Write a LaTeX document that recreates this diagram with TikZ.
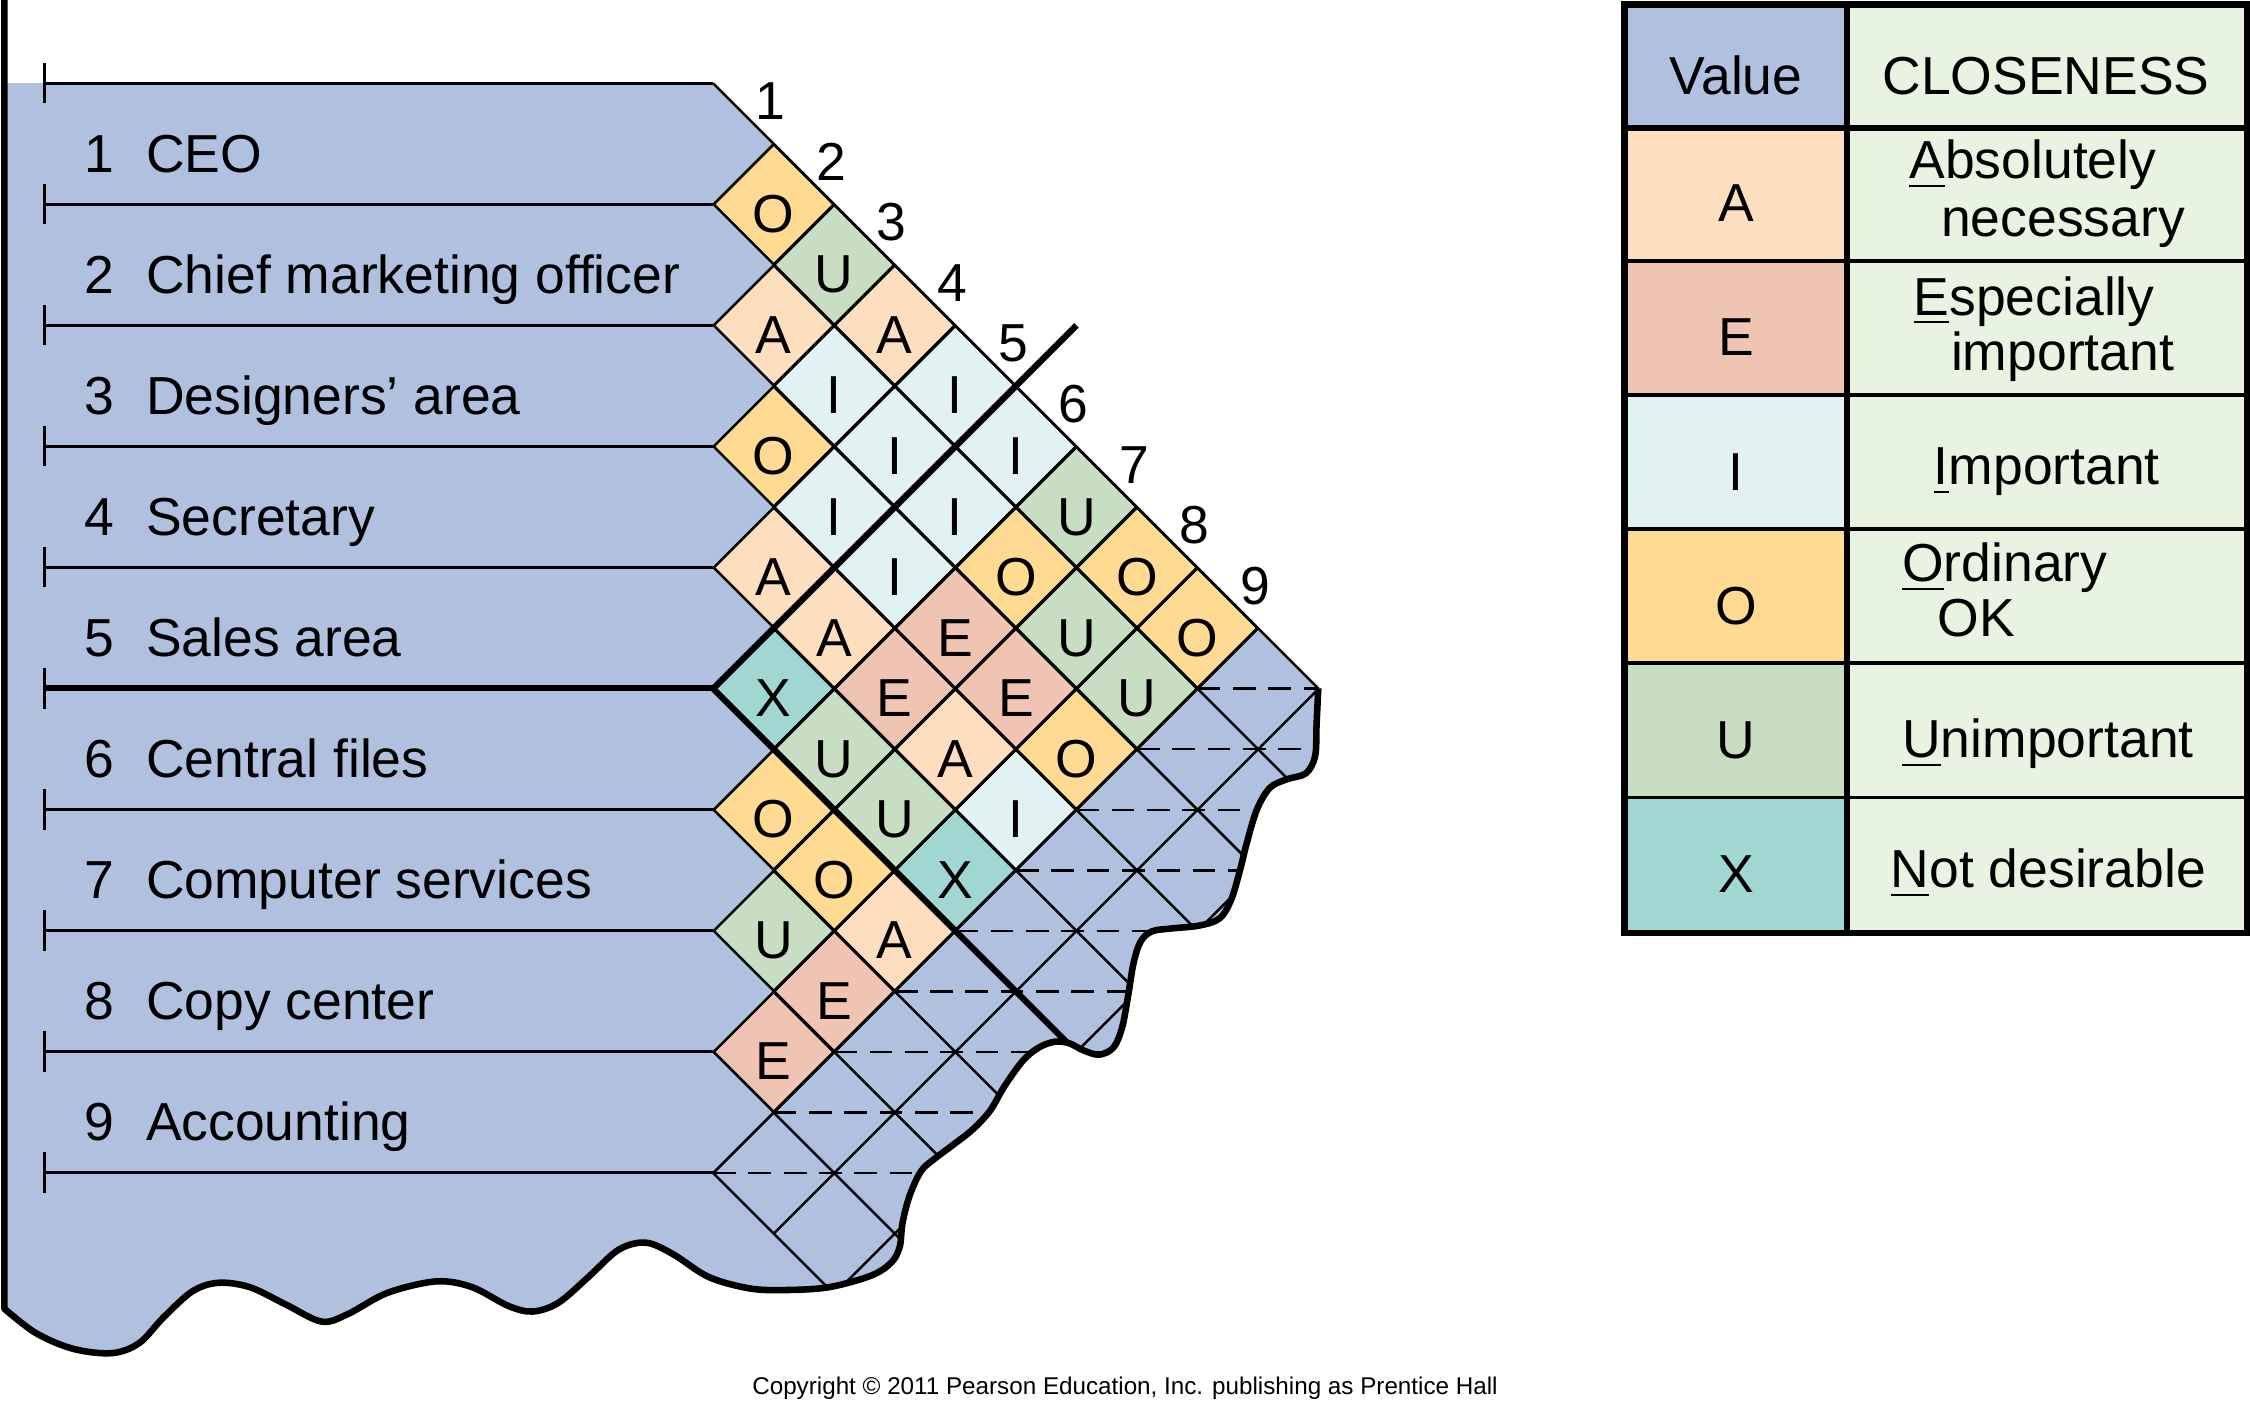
\documentclass[tikz,border=0pt]{standalone}
\usepackage{fontspec}
\setmainfont{Liberation Sans}
\usepackage{tikz}
\usetikzlibrary{shapes.geometric, arrows.meta}

\definecolor{paper}{RGB}{176,193,224}
\definecolor{acol}{RGB}{253,222,190}
\definecolor{ecol}{RGB}{240,196,179}
\definecolor{icol}{RGB}{226,241,242}
\definecolor{ocol}{RGB}{254,218,146}
\definecolor{ucol}{RGB}{200,222,194}
\definecolor{xcol}{RGB}{161,215,211}
\definecolor{keygreen}{RGB}{232,243,226}

% the torn right and bottom edge of the sheet
\newcommand{\tornedge}{-- plot[smooth, tension=0.55] coordinates {(918.7,479.7) (917.5,505) (916.5,527) (910,539) (897,543) (885,549) (876,564) (869,587) (864,607) (858,627) (850,640) (836,645) (817,647) (803,649) (795,656) (790,671) (786,695) (782,716) (776,730) (766,735) (755,732) (745,727) (735,726) (724,730) (713,739) (700,757) (690,774) (678,787) (664,798) (652,807) (642,816) (634,833) (629,852) (627,869) (621,880) (607,889) (578,897) (549,899) (523,898) (494,890) (469,874) (450,866) (431,871) (410,890) (389,908) (371,914) (354,910) (329,897) (304,893) (270,901) (242,916) (224,921) (199,909) (174,897) (152,894) (134,900) (114,918) (97,936) (78,943) (51,940) (25,929) (3,912)}}

\tikzset{
  cell/.style={diamond, draw, line width=0.5pt, minimum width=0.8434cm,
    minimum height=0.8434cm, inner sep=0pt, text height=0.39cm, text depth=0pt},
  rowline/.style={line width=0.65pt},
  gridline/.style={line width=0.5pt},
  heavy/.style={line width=1.25pt},
  torn/.style={line width=1.3pt, line join=round},
  rowlabel/.style={anchor=base west, inner sep=0pt},
  colnum/.style={inner sep=0pt},
  keycell/.style={draw, line width=0.7pt, inner sep=0pt, text height=0.39cm,
    text depth=0pt, anchor=north west},
  keyval/.style={keycell, minimum width=1.53cm, minimum height=0.935cm},
  keytext/.style={keycell, fill=keygreen, minimum width=2.79cm, minimum height=0.935cm},
  desc/.style={anchor=base west, inner sep=0pt}
}

\begin{document}
\begin{tikzpicture}[x=0.01cm, y=-0.01cm]
\fontsize{10.6}{12.7}\selectfont
\useasboundingbox (0,0) rectangle (1568,989.6);
        % Draw the sheet
        \fill[paper] (3,58) -- (497,58) -- (918.7,479.7) \tornedge -- cycle;
        % Draw the rows
        \draw[rowline, {Bar[width=8pt]}-] (30,58) -- (497,58);
        \draw[rowline, {Bar[width=8pt]}-] (30,142.34) -- (497,142.34);
        \draw[rowline, {Bar[width=8pt]}-] (30,226.68) -- (497,226.68);
        \draw[rowline, {Bar[width=8pt]}-] (30,311.02) -- (497,311.02);
        \draw[rowline, {Bar[width=8pt]}-] (30,395.36) -- (497,395.36);
        \draw[rowline, {Bar[width=8pt]}-] (30,479.7) -- (497,479.7);
        \draw[heavy] (30,479.7) -- (497,479.7);
        \draw[rowline, {Bar[width=8pt]}-] (30,564.04) -- (497,564.04);
        \draw[rowline, {Bar[width=8pt]}-] (30,648.38) -- (497,648.38);
        \draw[rowline, {Bar[width=8pt]}-] (30,732.72) -- (497,732.72);
        \draw[rowline, {Bar[width=8pt]}-] (30,817.06) -- (497,817.06);
        \node[rowlabel] (r1) at (58,120.17) {1\hspace{0.6em}CEO};
        \node[rowlabel] (r2) at (58,204.51) {2\hspace{0.6em}Chief marketing officer};
        \node[rowlabel] (r3) at (58,288.85) {3\hspace{0.6em}Designers’ area};
        \node[rowlabel] (r4) at (58,373.19) {4\hspace{0.6em}Secretary};
        \node[rowlabel] (r5) at (58,457.53) {5\hspace{0.6em}Sales area};
        \node[rowlabel] (r6) at (58,541.87) {6\hspace{0.6em}Central files};
        \node[rowlabel] (r7) at (58,626.21) {7\hspace{0.6em}Computer services};
        \node[rowlabel] (r8) at (58,710.55) {8\hspace{0.6em}Copy center};
        \node[rowlabel] (r9) at (58,794.89) {9\hspace{0.6em}Accounting};

        % Draw the closeness cells
        \begin{scope}[shift={(497,58)}, x=0.4217cm, y=-0.4217cm]
        \node[cell, fill=ocol] (c12) at (1,2)  {O};
        \node[cell, fill=ucol] (c13) at (2,3)  {U};
        \node[cell, fill=acol] (c14) at (3,4)  {A};
        \node[cell, fill=icol] (c15) at (4,5)  {I};
        \node[cell, fill=icol] (c16) at (5,6)  {I};
        \node[cell, fill=ucol] (c17) at (6,7)  {U};
        \node[cell, fill=ocol] (c18) at (7,8)  {O};
        \node[cell, fill=ocol] (c19) at (8,9)  {O};
        \node[cell, fill=acol] (c23) at (1,4)  {A};
        \node[cell, fill=icol] (c24) at (2,5)  {I};
        \node[cell, fill=icol] (c25) at (3,6)  {I};
        \node[cell, fill=icol] (c26) at (4,7)  {I};
        \node[cell, fill=ocol] (c27) at (5,8)  {O};
        \node[cell, fill=ucol] (c28) at (6,9)  {U};
        \node[cell, fill=ucol] (c29) at (7,10) {U};
        \node[cell, fill=ocol] (c34) at (1,6)  {O};
        \node[cell, fill=icol] (c35) at (2,7)  {I};
        \node[cell, fill=icol] (c36) at (3,8)  {I};
        \node[cell, fill=ecol] (c37) at (4,9)  {E};
        \node[cell, fill=ecol] (c38) at (5,10) {E};
        \node[cell, fill=ocol] (c39) at (6,11) {O};
        \node[cell, fill=acol] (c45) at (1,8)  {A};
        \node[cell, fill=acol] (c46) at (2,9)  {A};
        \node[cell, fill=ecol] (c47) at (3,10) {E};
        \node[cell, fill=acol] (c48) at (4,11) {A};
        \node[cell, fill=icol] (c49) at (5,12) {I};
        \node[cell, fill=xcol] (c56) at (1,10) {X};
        \node[cell, fill=ucol] (c57) at (2,11) {U};
        \node[cell, fill=ucol] (c58) at (3,12) {U};
        \node[cell, fill=xcol] (c59) at (4,13) {X};
        \node[cell, fill=ocol] (c67) at (1,12) {O};
        \node[cell, fill=ocol] (c68) at (2,13) {O};
        \node[cell, fill=acol] (c69) at (3,14) {A};
        \node[cell, fill=ucol] (c78) at (1,14) {U};
        \node[cell, fill=ecol] (c79) at (2,15) {E};
        \node[cell, fill=ecol] (c89) at (1,16) {E};
        \end{scope}

        % Draw the empty half of the grid
        \begin{scope}
        \clip (3,58) -- (497,58) -- (918.7,479.7) \tornedge -- cycle;
        \begin{scope}[shift={(497,58)}, x=0.4217cm, y=-0.4217cm]
        \draw[gridline] (0,18) -- (9,9) (8,10) -- (14,16) (7,11) -- (13,17)
            (6,12) -- (12,18) (5,13) -- (11,19) (3,15) -- (9,21)
            (2,16) -- (8,22) (1,17) -- (7,23) (0,18) -- (6,24);
        \draw[gridline] (1,19) -- (10,10) (2,20) -- (11,11) (3,21) -- (12,12)
            (4,22) -- (13,13) (5,23) -- (14,14);
        \draw[gridline, dash pattern=on 4.5pt off 2.5pt]
            (8,10) -- (20,10) (7,11) -- (20,11) (6,12) -- (20,12)
            (5,13) -- (20,13) (4,14) -- (20,14) (3,15) -- (20,15)
            (2,16) -- (20,16) (1,17) -- (20,17) (0,18) -- (20,18);
        \draw[heavy] (0,10) -- (12,22);
        \end{scope}
        \end{scope}

        \begin{scope}[shift={(497,58)}, x=0.4217cm, y=-0.4217cm]
        \draw[gridline] (0,0) -- (10,10);
        \draw[heavy] (0,10) -- (6,4);
        % Number the columns
        \node[colnum] (n1) at (0.95,0.3) {1};
        \node[colnum] (n2) at (1.95,1.3) {2};
        \node[colnum] (n3) at (2.95,2.3) {3};
        \node[colnum] (n4) at (3.95,3.3) {4};
        \node[colnum] (n5) at (4.95,4.3) {5};
        \node[colnum] (n6) at (5.95,5.3) {6};
        \node[colnum] (n7) at (6.95,6.3) {7};
        \node[colnum] (n8) at (7.95,7.3) {8};
        \node[colnum] (n9) at (8.95,8.3) {9};
        \end{scope}
        \draw[torn] (918.7,479.7) \tornedge -- (3,0);

        % Draw the key
        \node[keycell, fill=paper, minimum width=1.53cm, minimum height=0.84cm] (valhead) at (1132,3) {Value};
        \node[keycell, fill=keygreen, minimum width=2.79cm, minimum height=0.84cm] (closehead) at (1285,3) {CLOSENESS};
        \node[keyval, fill=acol] (keyA) at (1132,87)    {A};
        \node[keytext]           (textA) at (1285,87)   {};
        \node[keyval, fill=ecol] (keyE) at (1132,180.5) {E};
        \node[keytext]           (textE) at (1285,180.5) {};
        \node[keyval, fill=icol] (keyI) at (1132,274)   {I};
        \node[keytext]           (textI) at (1285,274)  {};
        \node[keyval, fill=ocol] (keyO) at (1132,367.5) {O};
        \node[keytext]           (textO) at (1285,367.5) {};
        \node[keyval, fill=ucol] (keyU) at (1132,461)   {U};
        \node[keytext]           (textU) at (1285,461)  {};
        \node[keyval, fill=xcol] (keyX) at (1132,554.5) {X};
        \node[keytext]           (textX) at (1285,554.5) {};
        \node[desc] (dA1) at (1330,124.6) {\underline{A}bsolutely};
        \node[desc] (dA2) at (1352,165)   {necessary};
        \node[desc] (dE1) at (1333,219.6) {\underline{E}specially};
        \node[desc] (dE2) at (1359,258)   {important};
        \node[desc] (dI)  at (1347,338)   {\underline{I}mportant};
        \node[desc] (dO1) at (1325,405.5) {\underline{O}rdinary};
        \node[desc] (dO2) at (1349.6,443.5) {OK};
        \node[desc] (dU)  at (1325,528)   {\underline{U}nimportant};
        \node[desc] (dX)  at (1317,618.7) {\underline{N}ot desirable};
        \draw[line width=0.9pt] (valhead.north east) -- (keyX.south east);
        \draw[line width=1.2pt] (valhead.south west) -- (closehead.south east);
        \draw[line width=1.2pt] (valhead.north west) rectangle (textX.south east);

        \node[font=\fontsize{4.8}{6}\selectfont, anchor=base, inner sep=0pt] (copy) at (784,972)
            {Copyright © 2011 Pearson Education, Inc. publishing as Prentice Hall};
\end{tikzpicture}
\end{document}
